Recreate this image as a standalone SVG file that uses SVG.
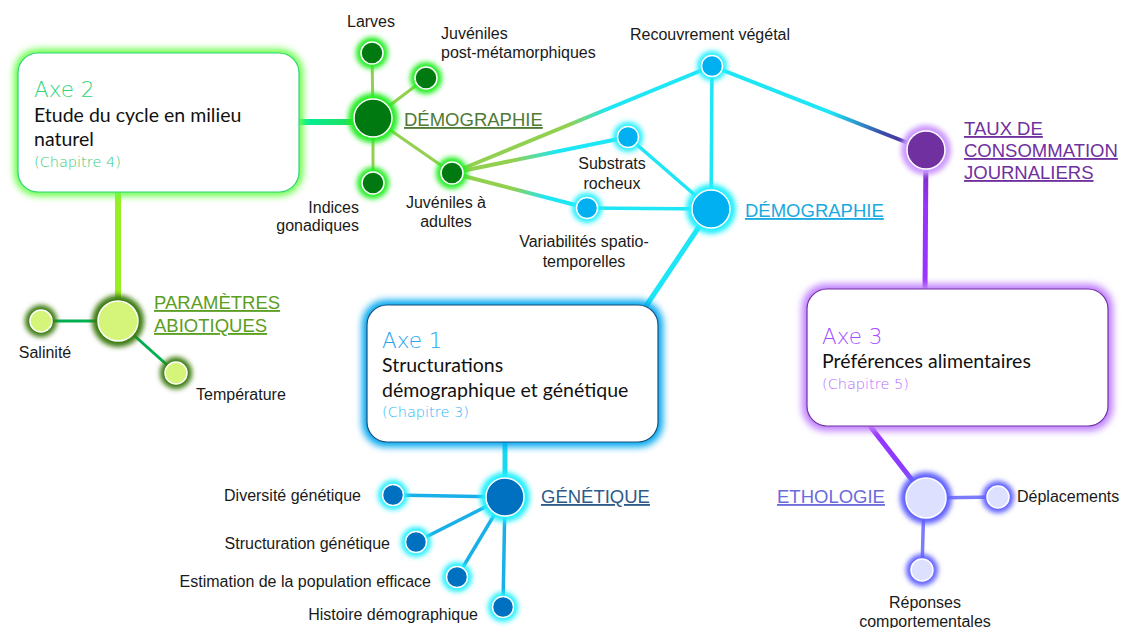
<svg xmlns="http://www.w3.org/2000/svg" width="1122" height="628" viewBox="0 0 1122 628">
<defs>
<filter id="blur" x="-50%" y="-50%" width="200%" height="200%"><feGaussianBlur stdDeviation="2.6"/></filter>
<filter id="bblur" x="-20%" y="-20%" width="140%" height="140%"><feGaussianBlur stdDeviation="3.5"/></filter>
<linearGradient id="gAxe2" gradientUnits="userSpaceOnUse" x1="299" y1="122" x2="355" y2="122"><stop offset="0" stop-color="#00f0a0"/><stop offset="1" stop-color="#22dd55"/></linearGradient>
<linearGradient id="gRec" gradientUnits="userSpaceOnUse" x1="452" y1="173" x2="712" y2="66"><stop offset="0" stop-color="#92d050"/><stop offset="0.45" stop-color="#92d050"/><stop offset="0.6" stop-color="#1ee6f5"/><stop offset="1" stop-color="#1ee6f5"/></linearGradient>
<linearGradient id="gSub" gradientUnits="userSpaceOnUse" x1="452" y1="173" x2="628" y2="137"><stop offset="0" stop-color="#92d050"/><stop offset="0.35" stop-color="#92d050"/><stop offset="0.6" stop-color="#1ee6f5"/><stop offset="1" stop-color="#1ee6f5"/></linearGradient>
<linearGradient id="gVar" gradientUnits="userSpaceOnUse" x1="452" y1="173" x2="587" y2="208"><stop offset="0" stop-color="#92d050"/><stop offset="0.45" stop-color="#92d050"/><stop offset="0.7" stop-color="#1ee6f5"/><stop offset="1" stop-color="#1ee6f5"/></linearGradient>
<linearGradient id="gTaux" gradientUnits="userSpaceOnUse" x1="712" y1="66" x2="926" y2="150"><stop offset="0" stop-color="#1ee6f5"/><stop offset="0.55" stop-color="#1ee6f5"/><stop offset="0.8" stop-color="#3a4aa8"/><stop offset="1" stop-color="#5a1f9a"/></linearGradient>
<linearGradient id="gAxe3" gradientUnits="userSpaceOnUse" x1="926" y1="150" x2="926" y2="290"><stop offset="0" stop-color="#6a2aa0"/><stop offset="0.4" stop-color="#9933ff"/><stop offset="1" stop-color="#9933ff"/></linearGradient>
<linearGradient id="gEth" gradientUnits="userSpaceOnUse" x1="870" y1="426" x2="926" y2="498"><stop offset="0" stop-color="#9933ff"/><stop offset="0.6" stop-color="#8a3cff"/><stop offset="1" stop-color="#7b7bff"/></linearGradient>
<style>
.lbl{font-family:"Liberation Sans",Arial,sans-serif;font-size:16px;fill:#1a1a1a}
.cat{font-family:"Liberation Sans",Arial,sans-serif;font-size:18.5px;text-decoration:underline}
.axe{font-family:"DejaVu Sans","Liberation Sans",sans-serif;font-size:21.5px;font-weight:200}
.body{font-family:"Lato","Open Sans",sans-serif;font-size:19.5px;fill:#111}
.chap{font-family:"DejaVu Sans","Liberation Sans",sans-serif;font-size:14.5px;font-weight:200}
.nd{stroke:#fff;stroke-width:1.5}
.box{fill:#fff;stroke-width:1.2}
</style>
</defs>
<rect width="1122" height="628" fill="#fff"/>

<g id="connectors" fill="none" stroke-linecap="butt">
<line x1="299" y1="122" x2="356" y2="122" stroke="url(#gAxe2)" stroke-width="6"/>
<line x1="118" y1="192" x2="118" y2="302" stroke="#99ee22" stroke-width="6"/>
<line x1="41" y1="321" x2="118" y2="321" stroke="#00b050" stroke-width="3"/>
<line x1="118" y1="321" x2="176" y2="373" stroke="#00b050" stroke-width="3"/>
<g stroke="#92d050" stroke-width="3">
<line x1="373" y1="118" x2="372" y2="53"/>
<line x1="373" y1="118" x2="426" y2="78"/>
<line x1="373" y1="118" x2="373" y2="183"/>
<line x1="373" y1="118" x2="452" y2="173"/>
</g>
<line x1="452" y1="173" x2="712" y2="66" stroke="url(#gRec)" stroke-width="4"/>
<line x1="452" y1="173" x2="628" y2="137" stroke="url(#gSub)" stroke-width="4"/>
<line x1="452" y1="173" x2="587" y2="208" stroke="url(#gVar)" stroke-width="4"/>
<g stroke="#1ee6f5" stroke-width="3.5">
<line x1="712" y1="66" x2="711" y2="209"/>
<line x1="628" y1="137" x2="711" y2="209"/>
<line x1="587" y1="208" x2="711" y2="209"/>
</g>
<line x1="712" y1="66" x2="926" y2="150" stroke="url(#gTaux)" stroke-width="4"/>
<line x1="711" y1="209" x2="646" y2="306" stroke="#1ee6f5" stroke-width="5"/>
<line x1="926" y1="150" x2="925" y2="290" stroke="url(#gAxe3)" stroke-width="5"/>
<line x1="870" y1="426" x2="926" y2="498" stroke="url(#gEth)" stroke-width="5"/>
<g stroke="#7b7bff" stroke-width="3.5">
<line x1="926" y1="498" x2="998" y2="497"/>
<line x1="924" y1="498" x2="922" y2="570"/>
</g>
<line x1="505" y1="442" x2="505" y2="497" stroke="#19d8f0" stroke-width="5"/>
<g stroke="#19b0ea" stroke-width="3.5">
<line x1="393" y1="495" x2="505" y2="497"/>
<line x1="416" y1="542" x2="505" y2="497"/>
<line x1="457" y1="577" x2="505" y2="497"/>
<line x1="503" y1="607" x2="505" y2="497"/>
</g>
</g>

<g id="axe2">
<rect x="14" y="49" width="289" height="147" rx="24" fill="#66ff44" filter="url(#bblur)"/>
<rect class="box" x="18" y="53" width="281" height="139" rx="20" stroke="#2ed47a"/>
<text class="axe" x="34" y="97" fill="#2ed47a">Axe 2</text>
<text class="body" x="34" y="122">Etude du cycle en milieu</text>
<text class="body" x="34" y="146">naturel</text>
<text class="chap" x="34" y="167" fill="#33cc7a">(Chapitre 4)</text>
</g>

<g id="axe1">
<rect x="362" y="300" width="301" height="147" rx="24" fill="#00a8f0" filter="url(#bblur)"/>
<rect class="box" x="367" y="305" width="291" height="137" rx="20" stroke="#1f4e79"/>
<text class="axe" x="382" y="348" fill="#29a3f0">Axe 1</text>
<text class="body" x="382" y="372">Structurations</text>
<text class="body" x="382" y="397">démographique et génétique</text>
<text class="chap" x="382" y="417" fill="#29b6f6">(Chapitre 3)</text>
</g>

<g id="axe3">
<rect x="802" y="284" width="311" height="147" rx="24" fill="#c080ff" filter="url(#bblur)"/>
<rect class="box" x="807" y="289" width="301" height="137" rx="20" stroke="#7030a0"/>
<text class="axe" x="822" y="344" fill="#a64dff">Axe 3</text>
<text class="body" x="822" y="368">Préférences alimentaires</text>
<text class="chap" x="822" y="389" fill="#b36bff">(Chapitre 5)</text>
</g>

<g id="demo-green">
<circle cx="373" cy="118" r="25" fill="#22ee22" filter="url(#blur)"/>
<circle class="nd" cx="373" cy="118" r="19" fill="#007a10"/>
<text class="cat" x="404" y="126" fill="#4f7a35">DÉMOGRAPHIE</text>
</g>
<g id="larves">
<circle cx="372" cy="53" r="16" fill="#22ee22" filter="url(#blur)"/>
<circle class="nd" cx="372" cy="53" r="11" fill="#007a10"/>
<text class="lbl" x="371" y="27" text-anchor="middle">Larves</text>
</g>
<g id="juv-post">
<circle cx="426" cy="78" r="16" fill="#22ee22" filter="url(#blur)"/>
<circle class="nd" cx="426" cy="78" r="11" fill="#007a10"/>
<text class="lbl" x="441" y="39">Juvéniles</text>
<text class="lbl" x="441" y="58">post-métamorphiques</text>
</g>
<g id="indices">
<circle cx="373" cy="183" r="16" fill="#22ee22" filter="url(#blur)"/>
<circle class="nd" cx="373" cy="183" r="11" fill="#007a10"/>
<text class="lbl" x="359" y="213" text-anchor="end">Indices</text>
<text class="lbl" x="359" y="231" text-anchor="end">gonadiques</text>
</g>
<g id="juv-adultes">
<circle cx="452" cy="173" r="16" fill="#22ee22" filter="url(#blur)"/>
<circle class="nd" cx="452" cy="173" r="11" fill="#007a10"/>
<text class="lbl" x="446" y="208" text-anchor="middle">Juvéniles à</text>
<text class="lbl" x="446" y="227" text-anchor="middle">adultes</text>
</g>

<g id="recouvrement">
<circle cx="712" cy="66" r="15" fill="#22f0ff" filter="url(#blur)"/>
<circle class="nd" cx="712" cy="66" r="10.5" fill="#00b0f0"/>
<text class="lbl" x="710" y="40" text-anchor="middle">Recouvrement végétal</text>
</g>
<g id="substrats">
<circle cx="628" cy="137" r="15" fill="#22f0ff" filter="url(#blur)"/>
<circle class="nd" cx="628" cy="137" r="10.5" fill="#00b0f0"/>
<text class="lbl" x="612" y="169" text-anchor="middle">Substrats</text>
<text class="lbl" x="612" y="189" text-anchor="middle">rocheux</text>
</g>
<g id="variabilites">
<circle cx="587" cy="208" r="15" fill="#22f0ff" filter="url(#blur)"/>
<circle class="nd" cx="587" cy="208" r="10.5" fill="#00b0f0"/>
<text class="lbl" x="584" y="247" text-anchor="middle">Variabilités spatio-</text>
<text class="lbl" x="584" y="267" text-anchor="middle">temporelles</text>
</g>
<g id="demo-cyan">
<circle cx="711" cy="209" r="25" fill="#22f0ff" filter="url(#blur)"/>
<circle class="nd" cx="711" cy="209" r="19" fill="#00b0f0"/>
<text class="cat" x="745" y="217" fill="#1aa9e0">DÉMOGRAPHIE</text>
</g>

<g id="taux">
<circle cx="926" cy="150" r="25" fill="#cc99ff" filter="url(#blur)"/>
<circle class="nd" cx="926" cy="150" r="19" fill="#7030a0"/>
<text class="cat" x="964" y="135" fill="#7030a0">TAUX DE</text>
<text class="cat" x="964" y="157" fill="#7030a0">CONSOMMATION</text>
<text class="cat" x="964" y="179" fill="#7030a0">JOURNALIERS</text>
</g>

<g id="ethologie">
<circle cx="926" cy="498" r="26" fill="#6060ff" filter="url(#blur)"/>
<circle class="nd" cx="926" cy="498" r="20" fill="#dde0ff"/>
<text class="cat" x="777" y="503" fill="#6b6bdd">ETHOLOGIE</text>
</g>
<g id="deplacements">
<circle cx="998" cy="497" r="16" fill="#6060ff" filter="url(#blur)"/>
<circle class="nd" cx="998" cy="497" r="11" fill="#dde0ff"/>
<text class="lbl" x="1017" y="502">Déplacements</text>
</g>
<g id="reponses">
<circle cx="922" cy="570" r="16" fill="#6060ff" filter="url(#blur)"/>
<circle class="nd" cx="922" cy="570" r="11" fill="#dde0ff"/>
<text class="lbl" x="925" y="608" text-anchor="middle">Réponses</text>
<text class="lbl" x="925" y="627" text-anchor="middle">comportementales</text>
</g>

<g id="genetique">
<circle cx="505" cy="497" r="25" fill="#22f0ff" filter="url(#blur)"/>
<circle class="nd" cx="505" cy="497" r="19" fill="#0070c0"/>
<text class="cat" x="541" y="503" fill="#2e5a8a">GÉNÉTIQUE</text>
</g>
<g id="diversite">
<circle cx="393" cy="495" r="15" fill="#22f0ff" filter="url(#blur)"/>
<circle class="nd" cx="393" cy="495" r="10.5" fill="#0070c0"/>
<text class="lbl" x="361" y="501" text-anchor="end">Diversité génétique</text>
</g>
<g id="structuration">
<circle cx="416" cy="542" r="15" fill="#22f0ff" filter="url(#blur)"/>
<circle class="nd" cx="416" cy="542" r="10.5" fill="#0070c0"/>
<text class="lbl" x="390" y="549" text-anchor="end">Structuration génétique</text>
</g>
<g id="estimation">
<circle cx="457" cy="577" r="15" fill="#22f0ff" filter="url(#blur)"/>
<circle class="nd" cx="457" cy="577" r="10.5" fill="#0070c0"/>
<text class="lbl" x="431" y="587" text-anchor="end">Estimation de la population efficace</text>
</g>
<g id="histoire">
<circle cx="503" cy="607" r="15" fill="#22f0ff" filter="url(#blur)"/>
<circle class="nd" cx="503" cy="607" r="10.5" fill="#0070c0"/>
<text class="lbl" x="478" y="620" text-anchor="end">Histoire démographique</text>
</g>

<g id="parametres">
<circle cx="118" cy="321" r="26" fill="#3a7a10" filter="url(#blur)"/>
<circle class="nd" cx="118" cy="321" r="20" fill="#d4f47a"/>
<text class="cat" x="154" y="309" fill="#5a9e22">PARAMÈTRES</text>
<text class="cat" x="154" y="332" fill="#5a9e22">ABIOTIQUES</text>
</g>
<g id="salinite">
<circle cx="41" cy="321" r="16" fill="#3a7a10" filter="url(#blur)"/>
<circle class="nd" cx="41" cy="321" r="11" fill="#d4f47a"/>
<text class="lbl" x="45" y="358" text-anchor="middle">Salinité</text>
</g>
<g id="temperature">
<circle cx="176" cy="373" r="16" fill="#3a7a10" filter="url(#blur)"/>
<circle class="nd" cx="176" cy="373" r="11" fill="#d4f47a"/>
<text class="lbl" x="196" y="400">Température</text>
</g>
</svg>
